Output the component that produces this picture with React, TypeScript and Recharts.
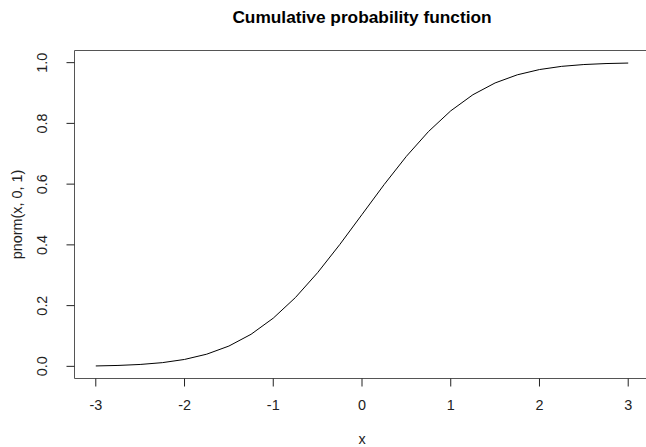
import React from "react";
import { LineChart, Line, XAxis, YAxis, ReferenceArea } from "recharts";

const xValues = [-3, -2.75, -2.5, -2.25, -2, -1.75, -1.5, -1.25, -1, -0.75, -0.5, -0.25, 0, 0.25, 0.5, 0.75, 1, 1.25, 1.5, 1.75, 2, 2.25, 2.5, 2.75, 3];
const yValues = [0.00135, 0.00298, 0.00621, 0.01222, 0.02275, 0.04006, 0.06681, 0.10565, 0.15866, 0.22663, 0.30854, 0.40129, 0.5, 0.59871, 0.69146, 0.77337, 0.84134, 0.89435, 0.93319, 0.95994, 0.97725, 0.98778, 0.99379, 0.99702, 0.99865];
const xTicks = [-3, -2, -1, 0, 1, 2, 3];
const yTicks = [0, 0.2, 0.4, 0.6, 0.8, 1.0];
const titleText = "Cumulative probability function";
const xLabel = "x";
const yLabel = "pnorm(x, 0, 1)";

const data = xValues.map((x, i) => ({ x, y: yValues[i] }));

const FONT = "'Liberation Sans', Arial, sans-serif";
const FS = 14.4;

const XTick = (props: any) => {
  const { x, y, payload } = props;
  return (
    <text x={x} y={y} dy={21.5} textAnchor="middle" fontFamily={FONT} fontSize={FS} fill="#222">
      {String(payload.value)}
    </text>
  );
};

const YTick = (props: any) => {
  const { x, y, payload } = props;
  const bx = x - 17;
  return (
    <text x={bx} y={y} textAnchor="middle" transform={`rotate(-90, ${bx}, ${y})`} fontFamily={FONT} fontSize={FS} fill="#222">
      {Number(payload.value).toFixed(1)}
    </text>
  );
};

export default function App() {
  return (
    <div style={{ position: "absolute", left: 0, top: 0, width: 646, height: 447, overflow: "hidden", background: "#fff" }}>
      <div style={{ position: "absolute", left: 0, width: 724, top: 8, textAlign: "center", fontFamily: FONT, fontWeight: "bold", fontSize: 17.3, lineHeight: "19px", color: "#000", whiteSpace: "nowrap" }}>
        {titleText}
      </div>
      <LineChart width={660} height={447} data={data} margin={{ top: 50.5, right: 10.5, bottom: 38.5, left: 14.5 }}>
        <XAxis
          dataKey="x"
          type="number"
          domain={[-3.24, 3.24]}
          ticks={xTicks}
          allowDataOverflow
          axisLine={false}
          tickSize={8}
          tickLine={{ stroke: "#222" }}
          height={30}
          tick={<XTick />}
          label={{
            content: (p: any) => {
              const vb = p.viewBox;
              return (
                <text x={vb.x + vb.width / 2} y={443.5} textAnchor="middle" fontFamily={FONT} fontSize={FS} fill="#222">
                  {xLabel}
                </text>
              );
            },
          }}
        />
        <YAxis
          dataKey="y"
          type="number"
          domain={[-0.04, 1.04]}
          ticks={yTicks}
          allowDataOverflow
          axisLine={false}
          tickSize={8}
          tickLine={{ stroke: "#222" }}
          width={60}
          tick={<YTick />}
          label={{
            content: () => {
              const cy = 50.5 + 328 / 2;
              return (
                <text x={22} y={cy} textAnchor="middle" transform={`rotate(-90, 22, ${cy})`} fontFamily={FONT} fontSize={FS} fill="#222">
                  {yLabel}
                </text>
              );
            },
          }}
        />
        <ReferenceArea x1={-3.24} x2={3.24} y1={-0.04} y2={1.04} fill="none" stroke="#555" strokeWidth={1} />
        <Line dataKey="y" type="linear" stroke="#000" strokeWidth={1} dot={false} isAnimationActive={false} />
      </LineChart>
    </div>
  );
}
